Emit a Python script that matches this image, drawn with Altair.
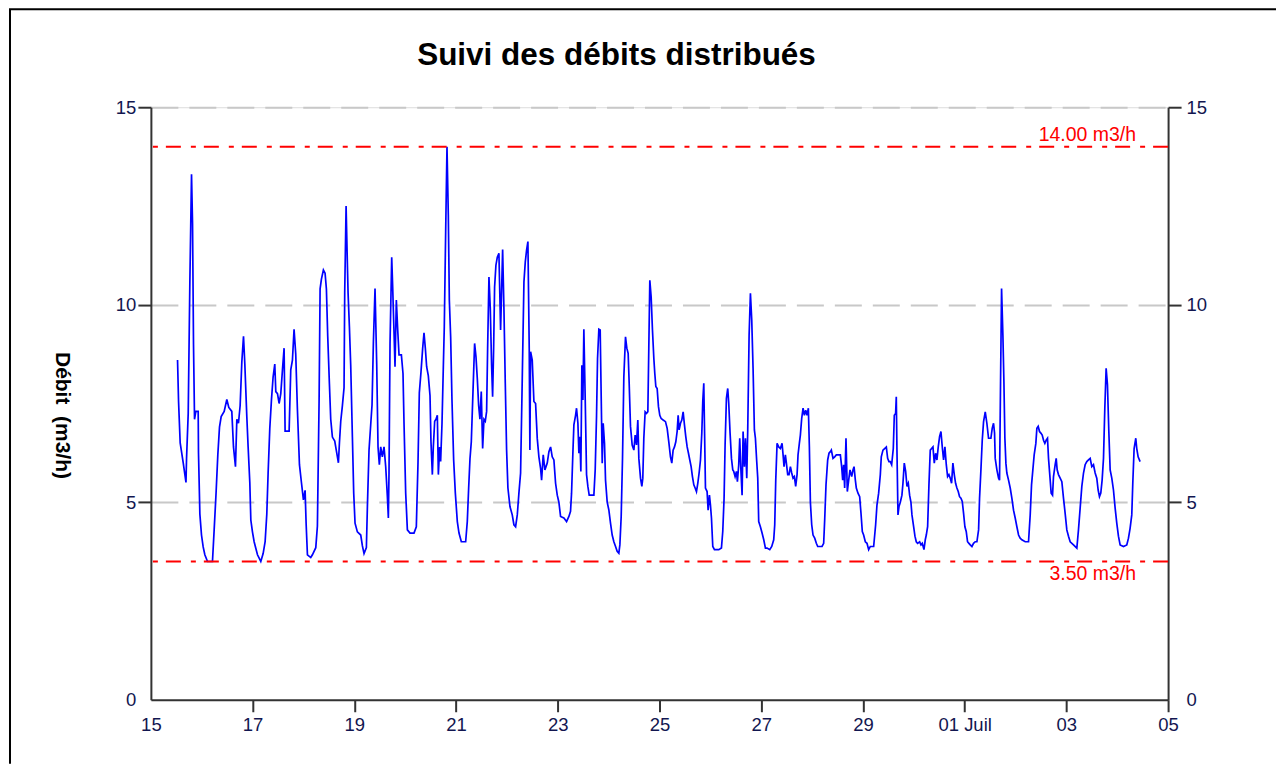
import altair as alt
import pandas as pd

# ---- data (days since 15 June 00:00, flow m3/h) ----
DAYS = [
    0.524, 0.544, 0.576, 0.635, 0.690, 0.701, 0.734, 0.766, 0.799, 0.819, 0.838, 0.858, 0.884, 0.930,
    0.936, 0.963, 0.995, 1.028, 1.061, 1.113, 1.211, 1.244, 1.283, 1.316, 1.349, 1.382, 1.441, 1.493,
    1.532, 1.591, 1.624, 1.663, 1.690, 1.722, 1.755, 1.788, 1.821, 1.847, 1.886, 1.912, 1.945, 1.965,
    1.997, 2.030, 2.096, 2.161, 2.207, 2.246, 2.279, 2.305, 2.338, 2.371, 2.403, 2.436, 2.456, 2.489,
    2.521, 2.554, 2.587, 2.619, 2.639, 2.718, 2.750, 2.783, 2.815, 2.848, 2.881, 2.921, 2.960, 2.999,
    3.032, 3.052, 3.078, 3.143, 3.176, 3.242, 3.274, 3.307, 3.327, 3.353, 3.392, 3.425, 3.451, 3.477,
    3.510, 3.536, 3.569, 3.615, 3.654, 3.687, 3.707, 3.733, 3.766, 3.798, 3.811, 3.838, 3.864, 3.877,
    3.903, 3.929,
    3.962, 3.988, 4.014, 4.060, 4.126, 4.158, 4.191, 4.237, 4.257, 4.289, 4.322, 4.348, 4.375, 4.407,
    4.440, 4.466, 4.492, 4.519, 4.551, 4.584, 4.617, 4.650, 4.669, 4.682, 4.702, 4.735, 4.754, 4.781,
    4.800, 4.826, 4.853, 4.879, 4.925, 4.957, 4.977, 5.010, 5.043, 5.095, 5.173, 5.219, 5.252, 5.278,
    5.311, 5.344, 5.370, 5.396, 5.422, 5.455, 5.488, 5.507, 5.534, 5.553, 5.580, 5.606, 5.632, 5.652,
    5.678, 5.697, 5.724, 5.750, 5.769, 5.796, 5.822, 5.848, 5.868, 5.894, 5.920, 5.953, 5.986, 6.025,
    6.058, 6.104, 6.189, 6.221, 6.248, 6.274, 6.300, 6.333, 6.365, 6.392, 6.418, 6.444, 6.470, 6.496,
    6.523, 6.549, 6.575, 6.601, 6.621, 6.647, 6.673, 6.699, 6.719, 6.739, 6.758, 6.784, 6.811, 6.843,
    6.876, 6.896, 6.916, 6.942, 6.968, 6.994, 7.020, 7.060, 7.105, 7.138, 7.171, 7.204, 7.236, 7.269,
    7.302, 7.335, 7.361, 7.387, 7.413, 7.439, 7.452, 7.466, 7.498, 7.531, 7.564, 7.597, 7.629, 7.662,
    7.682, 7.714, 7.747, 7.793, 7.826, 7.859, 7.891, 7.924, 7.957, 7.990, 8.022, 8.055,
    8.120, 8.173, 8.219, 8.251, 8.271, 8.297, 8.317, 8.350, 8.369, 8.396, 8.415, 8.435, 8.454, 8.474,
    8.494, 8.513, 8.540, 8.566, 8.592, 8.618, 8.710, 8.736, 8.762, 8.782, 8.808, 8.834, 8.854, 8.874,
    8.893, 8.919, 8.939, 8.972, 9.005, 9.037, 9.070, 9.103, 9.136, 9.168, 9.201, 9.221, 9.247, 9.273,
    9.299, 9.332, 9.358, 9.384, 9.404, 9.430, 9.463, 9.496, 9.522, 9.548, 9.574, 9.594, 9.627, 9.653,
    9.672, 9.692, 9.718, 9.745, 9.771, 9.790, 9.810, 9.836, 9.862, 9.889, 9.908, 9.928, 9.954, 9.980,
    10.006, 10.033, 10.072, 10.118, 10.151, 10.183, 10.216, 10.242, 10.268, 10.295, 10.321, 10.347,
    10.367, 10.386, 10.413, 10.439, 10.465, 10.491, 10.517, 10.544, 10.570, 10.596, 10.622, 10.648,
    10.675, 10.701, 10.727, 10.753, 10.779, 10.806, 10.832, 10.851, 10.871, 10.884, 10.904, 10.936,
    10.956, 10.982, 11.002, 11.022, 11.048, 11.081, 11.166, 11.218, 11.244, 11.270, 11.290, 11.316,
    11.342, 11.362, 11.388, 11.415, 11.441, 11.460, 11.487, 11.513, 11.532, 11.558, 11.578, 11.598,
    11.624, 11.644, 11.670, 11.690, 11.716, 11.735, 11.762, 11.788, 11.814, 11.840, 11.866, 11.886,
    11.912, 11.932, 11.951, 11.984, 12.017, 12.050, 12.083, 12.115, 12.168, 12.207,
    12.246, 12.266, 12.286, 12.312, 12.344, 12.377, 12.410, 12.430, 12.449, 12.475, 12.495, 12.521,
    12.547, 12.574, 12.600, 12.626, 12.652, 12.678, 12.705, 12.724, 12.750, 12.770, 12.796, 12.823,
    12.849, 12.875, 12.901, 12.927, 12.947, 12.967, 12.993, 13.019, 13.052, 13.084, 13.111, 13.150,
    13.196, 13.228, 13.248, 13.274, 13.307, 13.333, 13.360, 13.379, 13.412, 13.445, 13.477, 13.517,
    13.556, 13.582, 13.602, 13.621, 13.641, 13.667, 13.693, 13.720, 13.746, 13.779, 13.805, 13.825,
    13.851, 13.870, 13.903, 13.936, 13.962, 13.988, 14.014, 14.047, 14.080, 14.113, 14.145, 14.211,
    14.250, 14.276, 14.309, 14.342, 14.361, 14.394, 14.427, 14.460, 14.486, 14.512, 14.538, 14.565,
    14.597, 14.617, 14.643, 14.656, 14.669, 14.689, 14.709, 14.735, 14.767, 14.787, 14.813, 14.840,
    14.866, 14.892, 14.918, 14.944, 14.964, 14.997, 15.023, 15.049, 15.075, 15.115, 15.141, 15.167,
    15.200, 15.226, 15.246, 15.272, 15.298, 15.324, 15.350, 15.377, 15.403, 15.429, 15.455, 15.481,
    15.507, 15.534, 15.560, 15.586, 15.612, 15.639, 15.665, 15.691, 15.717, 15.743, 15.769, 15.796,
    15.822, 15.848, 15.874, 15.900, 15.927, 15.953, 15.979, 16.005, 16.031, 16.057, 16.084, 16.110,
    16.143, 16.175, 16.208, 16.241, 16.274, 16.293, 16.320, 16.346, 16.372, 16.405, 16.437, 16.470,
    16.516, 16.542, 16.568, 16.588, 16.601, 16.634, 16.667, 16.686, 16.706, 16.726, 16.752, 16.772,
    16.791, 16.811, 16.830, 16.863, 16.896, 16.929, 16.961, 16.994, 17.027, 17.060, 17.092, 17.125,
    17.191, 17.256, 17.289, 17.315, 17.341, 17.367, 17.400, 17.420, 17.446, 17.472, 17.498, 17.525,
    17.551, 17.577, 17.603, 17.629, 17.649, 17.682, 17.701, 17.728, 17.747, 17.780, 17.800, 17.819,
    17.845, 17.878, 17.911, 17.944, 17.976, 18.009, 18.042, 18.075, 18.140, 18.206, 18.238, 18.271,
    18.304, 18.337, 18.369, 18.402, 18.435, 18.468, 18.500, 18.533, 18.566, 18.598, 18.625, 18.651,
    18.677, 18.703, 18.730, 18.756, 18.782, 18.808, 18.835, 18.861, 18.893, 18.926, 18.959, 18.991,
    19.024, 19.057, 19.123, 19.188, 19.221, 19.253, 19.286, 19.306, 19.332, 19.365, 19.384, 19.411,
    19.450,
]

FLOW = [
    8.60, 7.55, 6.50, 6.00, 5.50, 6.10, 7.25, 10.55, 13.30, 12.05, 9.00, 7.10, 7.30, 7.30,
    6.25, 4.70, 4.17, 3.87, 3.67, 3.50, 3.50, 4.30, 5.27, 6.20, 6.90, 7.17, 7.30, 7.60,
    7.40, 7.30, 6.40, 5.90, 7.10, 7.00, 7.45, 8.55, 9.20, 8.50, 7.17, 6.40, 5.50, 4.55,
    4.25, 4.00, 3.67, 3.50, 3.70, 4.00, 4.70, 5.74, 6.87, 7.60, 8.17, 8.50, 7.80, 7.75,
    7.50, 7.75, 8.35, 8.90, 6.80, 6.80, 8.35, 8.60, 9.38, 8.75, 7.35, 5.95, 5.50, 5.06,
    5.30, 4.47, 3.67, 3.60, 3.67, 3.85, 4.40, 7.55, 10.40, 10.65, 10.88, 10.80, 10.40, 9.20,
    8.00, 7.10, 6.65, 6.55, 6.25, 6.00, 6.50, 7.05, 7.45, 7.90, 10.30, 12.50, 11.00, 10.30,
    9.45, 8.47,
    6.65, 5.23, 4.47, 4.25, 4.17, 3.90, 3.70, 3.85, 4.89, 6.32, 6.96, 7.46, 9.06, 10.41,
    8.50, 6.40, 5.95, 6.40, 6.15, 6.40, 5.90, 5.14, 4.60, 5.74, 9.02, 11.20, 10.45, 9.27,
    8.43, 10.12, 9.36, 8.73, 8.73, 8.26, 7.00, 5.23, 4.30, 4.22, 4.22, 4.38, 6.00, 7.77,
    8.30, 8.90, 9.29, 8.90, 8.43, 8.20, 7.70, 6.53, 5.70, 6.40, 7.05, 7.10, 7.20, 5.70,
    6.40, 6.03, 7.00, 8.43, 9.44, 11.85, 14.00, 12.27, 10.12, 9.19, 7.59, 6.07, 5.23, 4.51,
    4.22, 4.00, 4.00, 4.51, 5.36, 6.10, 6.53, 7.80, 9.02, 8.68, 8.13, 7.46, 7.10, 7.80,
    6.36, 7.10, 7.05, 7.30, 8.90, 10.70, 9.91, 8.47, 7.67, 8.90, 10.45, 11.00, 11.20, 11.30,
    9.36, 10.37, 11.40, 9.87, 8.01, 6.32, 5.36, 4.89, 4.68, 4.43, 4.38, 4.68, 5.23, 5.74,
    8.13, 10.58, 11.08, 11.38, 11.60, 8.90, 6.32, 8.81, 8.60, 7.55, 7.50, 6.61, 6.15, 5.86,
    5.56, 6.20, 5.82, 5.99, 6.28, 6.40, 6.15, 6.07, 5.48, 5.18, 5.00, 4.64,
    4.60, 4.51, 4.64, 4.77, 5.23, 6.24, 6.96, 7.20, 7.38, 7.00, 6.24, 6.66, 5.78, 8.47,
    7.59, 9.38, 7.59, 5.70, 5.40, 5.18, 5.18, 5.82, 7.17, 8.64, 9.38, 9.36, 7.67, 5.99,
    7.00, 6.49, 5.56, 5.00, 4.80, 4.47, 4.17, 4.00, 3.88, 3.76, 3.71, 3.92, 4.64, 6.11,
    8.17, 9.19, 8.90, 8.77, 8.01, 6.92, 6.45, 6.32, 6.70, 6.45, 7.08, 6.11, 5.61, 5.40,
    5.61, 6.62, 7.29, 7.25, 7.29, 8.90, 10.62, 10.20, 9.36, 8.64, 8.26, 7.93, 7.88, 7.42,
    7.20, 7.12, 7.08, 7.04, 6.87, 6.53, 6.15, 5.99, 6.32, 6.40, 6.53, 6.79,
    7.20, 6.83, 7.00, 7.08, 7.29, 6.96, 6.66, 6.40, 6.24, 6.07, 5.90, 5.65,
    5.44, 5.36, 5.27, 5.48, 5.74, 6.07, 6.75, 7.55, 8.01, 6.96, 5.36, 5.27,
    4.80, 5.18, 4.93, 4.60, 3.88, 3.80, 3.80, 3.84, 4.26, 5.10, 6.45, 7.63,
    7.88, 7.50, 6.75, 6.11, 5.82, 5.78, 5.65, 5.78, 5.52, 5.95, 6.62, 5.90,
    5.18, 6.79, 5.90, 6.62, 5.61, 6.83, 9.23, 10.29, 9.61, 8.39, 6.83, 6.62,
    6.03, 5.61, 4.51, 4.38, 4.22, 4.05, 3.84, 3.84, 3.80, 3.88,
    4.05, 4.43, 5.56, 6.49, 6.40, 6.36, 6.49, 6.20, 5.90, 6.20, 5.99, 5.70,
    5.70, 5.90, 5.74, 5.61, 5.65, 5.40, 5.70, 6.20, 6.49, 6.70, 7.12, 7.38,
    7.20, 7.33, 7.20, 7.38, 6.40, 5.00, 4.43, 4.17, 4.09, 3.96, 3.88, 3.88,
    3.88, 3.96, 4.55, 5.44, 6.07, 6.24, 6.28, 6.32, 6.11, 6.15, 6.20, 6.20,
    6.20, 5.90, 5.56, 5.95, 5.36, 6.62, 5.27, 5.56, 5.82, 5.65, 5.82, 5.90,
    5.56, 5.36, 5.23, 5.14, 4.72, 4.26, 4.17, 4.00, 3.96, 3.80, 3.88, 3.88,
    4.43, 4.93, 5.23, 5.70, 6.15, 6.32, 6.36, 6.40, 6.11, 6.03, 6.03, 5.95,
    6.36, 7.20, 7.25, 7.67, 6.32, 4.68, 4.89, 5.00, 5.18, 5.48, 5.99, 5.78,
    5.40, 5.48, 5.18, 5.00, 4.68, 4.38, 4.14, 4.00, 3.96, 4.00, 3.92, 3.96,
    3.80, 4.05, 4.17, 4.38, 5.44, 6.32, 6.36, 6.40, 5.99, 6.24, 6.07, 6.40,
    6.66, 6.79, 6.40, 6.07, 6.40, 5.95, 5.65, 5.70, 5.61, 5.48, 5.99, 5.70,
    5.48, 5.36, 5.27, 5.14, 5.10, 5.02, 4.72, 4.38, 4.26, 4.00, 3.96, 3.92,
    3.88, 3.96, 4.00, 4.00, 4.30, 5.10, 5.82, 6.57, 7.04, 7.29, 7.00, 6.62,
    6.62, 6.87, 7.00, 6.75, 6.11, 5.82, 5.61, 5.56, 8.05, 10.41, 9.23, 8.05,
    6.62, 5.99, 5.74, 5.56, 5.36, 5.10, 4.80, 4.60, 4.38, 4.17, 4.09, 4.05,
    4.00, 4.00, 4.68, 5.44, 5.82, 6.20, 6.49, 6.87, 6.92, 6.79, 6.75, 6.70,
    6.57, 6.49, 6.57, 6.62, 6.11, 5.56, 5.23, 5.18, 5.65, 5.95, 6.11, 5.82,
    5.70, 5.61, 5.52, 5.10, 4.72, 4.30, 4.14, 4.00, 3.92, 3.84, 4.30, 4.85,
    5.40, 5.74, 5.95, 6.03, 6.07, 6.11, 5.90, 5.95, 5.74, 5.61, 5.31, 5.14,
    5.23, 5.56, 6.11, 7.38, 8.39, 7.97, 6.79, 5.82, 5.61, 5.31, 4.85, 4.47,
    4.14, 3.92, 3.88, 3.92, 4.09, 4.34, 4.68, 5.48, 6.36, 6.62, 6.36, 6.15,
    6.03,
]

THRESHOLD_VALUES = [14.0, 3.5]
THRESHOLD_LABELS = ["14.00 m3/h", "3.50 m3/h"]
THRESHOLD_SIDE = ["above", "below"]

Y_TICKS = [0, 5, 10, 15]
X_TICK_DAYS = [(2023, 6, 15), (2023, 6, 17), (2023, 6, 19), (2023, 6, 21), (2023, 6, 23),
               (2023, 6, 25), (2023, 6, 27), (2023, 6, 29), (2023, 7, 1), (2023, 7, 3),
               (2023, 7, 5)]

TITLE = "Suivi des débits distribués"
Y_TITLE = "Débit\u00a0\u00a0(m3/h)"

# ---- build tables ----
base = pd.Timestamp("2023-06-15 00:00:00")
df = pd.DataFrame({
    "t": [(base + pd.to_timedelta(d, unit="D")).strftime("%Y-%m-%dT%H:%M:%S") for d in DAYS],
    "flow": FLOW,
})
thr = pd.DataFrame({"value": THRESHOLD_VALUES, "label": THRESHOLD_LABELS, "side": THRESHOLD_SIDE})

FONT = "Liberation Sans"
LABEL_COLOR = "#121650"
AXIS_COLOR = "#333333"
W, H = 1018, 593

x_ticks = [alt.DateTime(year=y, month=m, date=d) for (y, m, d) in X_TICK_DAYS]
x_scale = alt.Scale(domain=[x_ticks[0], x_ticks[-1]])
y_scale = alt.Scale(domain=[0, 15])

x_axis = alt.Axis(
    values=x_ticks,
    labelExpr="date(datum.value) == 1 ? '01 Juil' : timeFormat(datum.value, '%d')",
    title="",
    grid=False,
    labelFont=FONT, labelFontSize=18.5, labelColor=LABEL_COLOR,
    labelPadding=4, labelFlush=False, labelOverlap=False,
    tickSize=12, tickWidth=2,
    tickColor={"condition": {"test": "date(datum.value) == 15 && month(datum.value) == 5",
                             "value": "transparent"}, "value": AXIS_COLOR},
    domainColor=AXIS_COLOR, domainWidth=2,
)

y_axis_left = alt.Axis(
    orient="left", values=Y_TICKS,
    title=Y_TITLE, titleFont=FONT, titleFontSize=21, titleFontWeight="bold", titleColor="black",
    titleAngle=90, titleX=-89, titleY=308, titleAlign="center", titleBaseline="middle",
    labelFont=FONT, labelFontSize=18.5, labelColor=LABEL_COLOR, labelPadding=2,
    tickSize=13, tickWidth=2,
    tickColor={"condition": {"test": "datum.value == 0", "value": "transparent"}, "value": AXIS_COLOR},
    domainColor=AXIS_COLOR, domainWidth=2,
    grid=True, gridDash=[27, 11], gridColor="#c8c8c8", gridWidth=2,
    gridOpacity={"condition": {"test": "datum.value == 0", "value": 0}, "value": 1},
)

y_axis_right = alt.Axis(
    orient="right", values=Y_TICKS, title="",
    labelFont=FONT, labelFontSize=18.5, labelColor=LABEL_COLOR, labelPadding=5,
    tickSize=13, tickWidth=2,
    tickColor={"condition": {"test": "datum.value == 0", "value": "transparent"}, "value": AXIS_COLOR},
    domainColor=AXIS_COLOR, domainWidth=2, grid=False,
)

line = alt.Chart(df).mark_line(color="#0000ff", strokeWidth=1.7).encode(
    x=alt.X("t:T", scale=x_scale, axis=x_axis),
    y=alt.Y("flow:Q", scale=y_scale, axis=y_axis_left),
)

rules = alt.Chart(thr).mark_rule(color="#ff0000", strokeWidth=2, strokeDash=[15, 8, 5, 10]).encode(
    y=alt.Y("value:Q", scale=y_scale, axis=y_axis_right),
)

label_above = alt.Chart(thr).transform_filter("datum.side == 'above'").mark_text(
    align="right", baseline="alphabetic", dy=-6, color="#ff0000", font=FONT, fontSize=19.5
).encode(
    x=alt.value(W - 32),
    y=alt.Y("value:Q", scale=y_scale, axis=None),
    text="label:N",
)

label_below = alt.Chart(thr).transform_filter("datum.side == 'below'").mark_text(
    align="right", baseline="top", dy=4, color="#ff0000", font=FONT, fontSize=19.5
).encode(
    x=alt.value(W - 32),
    y=alt.Y("value:Q", scale=y_scale, axis=None),
    text="label:N",
)

frame_df = pd.DataFrame({"k": [0]})
frame_top = alt.Chart(frame_df).mark_rule(color="black", strokeWidth=2).encode(
    x=alt.value(-142), x2=alt.value(1126), y=alt.value(-98)
)
frame_left = alt.Chart(frame_df).mark_rule(color="black", strokeWidth=2).encode(
    x=alt.value(-141), y=alt.value(-98), y2=alt.value(657)
)

chart = alt.layer(line, rules, label_above, label_below, frame_top, frame_left).resolve_axis(
    y="independent"
).properties(
    width=W, height=H, padding=0,
    title=alt.TitleParams(TITLE, font=FONT, fontSize=31.5, fontWeight="bold", color="black",
                          anchor="middle", dx=-43, offset=-63),
).configure_view(strokeWidth=0).configure(font=FONT)

chart.save("out.html", embed_options={"renderer": "svg", "actions": False})
